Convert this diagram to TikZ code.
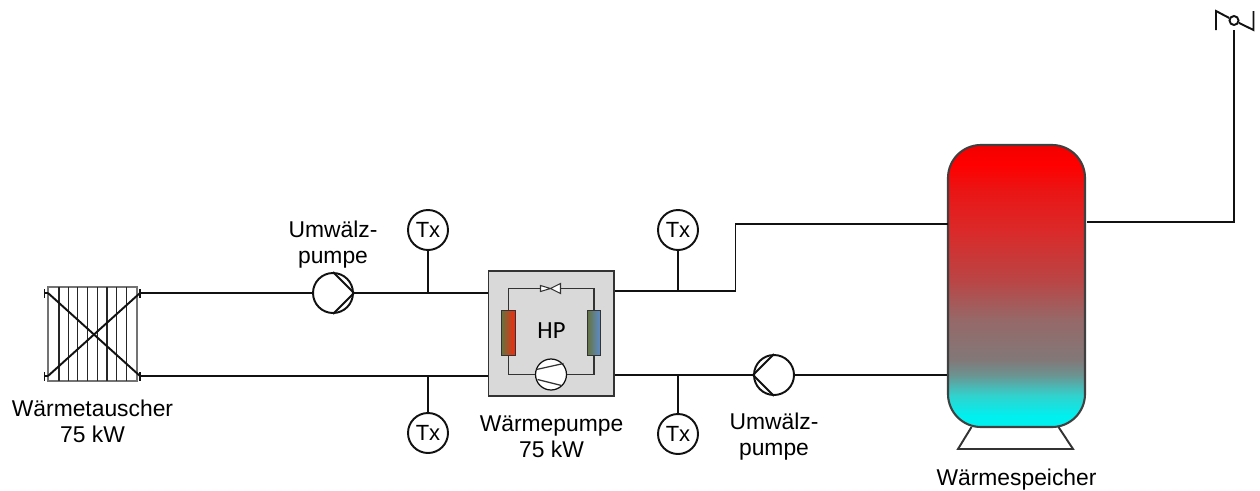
\documentclass[tikz,border=0pt]{standalone}
\usepackage{fontspec}
\setmainfont{Liberation Sans}
\newfontfamily\hpfont{Carlito}
\usetikzlibrary{positioning}
\definecolor{hline}{HTML}{111111}
\definecolor{hgrey}{HTML}{D9D9D9}
\definecolor{hedge}{HTML}{333333}
\definecolor{holive}{HTML}{66723F}
\definecolor{horange}{HTML}{D8602A}
\definecolor{hred}{HTML}{FB260A}
\definecolor{hblue}{HTML}{5C8ED0}
\pgfdeclareverticalshading{tankgrad}{100bp}{
  rgb(0bp)=(0,.94,.94);rgb(27bp)=(0,.94,.94);rgb(30.7bp)=(.2,.82,.80);rgb(34.2bp)=(.42,.58,.57);
  rgb(36.9bp)=(.51,.47,.47);rgb(44bp)=(.59,.41,.41);rgb(51bp)=(.73,.27,.27);rgb(60bp)=(.86,.16,.16);
  rgb(67bp)=(.92,.08,.08);rgb(71.5bp)=(1,0,0);rgb(75bp)=(.95,0,0);rgb(100bp)=(.95,0,0)}
\tikzset{
  pipe/.style={line width=1.1pt,draw=hline},
  thinp/.style={line width=0.7pt,draw=hedge},
  lbl/.style={align=center,font=\fontsize{13}{14.8}\selectfont,inner sep=0pt},
  pumpn/.style={circle,draw=hline,fill=white,line width=1.1pt,minimum size=0.8cm,inner sep=0pt},
  txn/.style={circle,draw=hline,fill=white,line width=1.1pt,minimum size=0.8cm,inner sep=0pt,font=\fontsize{12.5}{14}\selectfont},
  coil/.style={rectangle,draw=hedge,line width=0.8pt,minimum width=0.27cm,minimum height=0.91cm,inner sep=0pt},
  tri/.style={draw=hedge,fill=white,line width=0.6pt},
}
\begin{document}
\begin{tikzpicture}
  \useasboundingbox (0,0) rectangle (25.2,9.8);
  % waermetauscher
  \node[rectangle,draw=black!55,line width=1.1pt,minimum width=1.77cm,minimum height=1.87cm,inner sep=0pt] (hx) at (1.85,3.12) {};
  \foreach \x in {1.18,1.37,1.55,1.75,1.95,2.14,2.33,2.53} { \draw[line width=1pt,draw=black!85] (\x,2.19) -- (\x,4.06); }
  \coordinate (hxtl) at (0.96,3.94); \coordinate (hxbl) at (0.96,2.28);
  \coordinate (hxtr) at (2.80,3.94); \coordinate (hxbr) at (2.80,2.28);
  \draw[pipe] (hxtl) -- (hxbr); \draw[pipe] (hxbl) -- (hxtr);
  \draw[pipe] (0.89,3.94) -- (hxtl); \draw[pipe] (0.89,2.28) -- (hxbl);
  \foreach \x/\y in {0.89/3.94,0.89/2.28,2.80/3.94,2.80/2.28} { \draw[pipe] (\x,\y-0.09) -- (\x,\y+0.09); }
  \node[lbl] (hxl) at (1.85,1.38) {Wärmetauscher\\75 kW};
  % waermepumpe
  \node[rectangle,draw=hedge,fill=hgrey,line width=0.9pt,minimum width=2.51cm,minimum height=2.5cm,inner sep=0pt] (hp) at (11.025,3.13) {};
  \node[coil,left color=holive,middle color=horange,right color=hred] (cond) at (10.17,3.14) {};
  \node[coil,left color=holive,right color=hblue] (evap) at (11.88,3.14) {};
  \node[circle,draw=hline,fill=white,line width=0.7pt,minimum size=0.62cm,inner sep=0pt] (comp) at (11.02,2.31) {};
  \coordinate (valve) at (11.01,4.03);
  \draw[thinp] (cond.north) |- (valve) -| (evap.north);
  \draw[thinp] (evap.south) |- (comp.east);
  \draw[thinp] (comp.west) -| (cond.south);
  \draw[thinp] (10.73,2.41) -- (11.27,2.53); \draw[thinp] (10.75,2.21) -- (11.23,2.09);
  \draw[tri] (valve) -- (10.81,4.09) -- (10.81,3.97) -- cycle;
  \draw[tri] (valve) -- (11.21,4.13) -- (11.21,3.93) -- cycle;
  \node[font=\hpfont\fontsize{14}{16}\selectfont,inner sep=0pt] (hpt) at (11.03,3.19) {HP};
  \node[lbl] (hpl) at (11.03,1.07) {Wärmepumpe\\75 kW};
  % speicher
  \draw[line width=1.1pt,draw=hedge,fill=white] (19.43,1.26) -- (19.16,0.82) -- (21.46,0.82) -- (21.17,1.26);
  \node[rectangle,rounded corners=0.66cm,draw=black!75,line width=1.2pt,shade,shading=tankgrad,minimum width=2.74cm,minimum height=5.64cm,inner sep=0pt] (tank) at (20.33,4.08) {};
  \node[lbl] (tankl) at (20.33,0.2) {Wärmespeicher};
  % umwaelzpumpen
  \node[pumpn] (pumpa) at (6.66,3.94) {};
  \draw[pipe] (pumpa.north) -- (pumpa.east) -- (pumpa.south);
  \node[lbl] (pumpal) at (6.66,4.9) {Umwälz-\\pumpe};
  \node[pumpn] (pumpb) at (15.48,2.30) {};
  \draw[pipe] (pumpb.north) -- (pumpb.west) -- (pumpb.south);
  \node[lbl] (pumpbl) at (15.48,1.07) {Umwälz-\\pumpe};
  % rohre
  \coordinate (kink) at (14.71,3.98);
  \coordinate (stin) at (18.96,5.32);
  \draw[pipe] (hxtr) -- (pumpa.west); \draw[pipe] (pumpa.east) -- (hp.west |- pumpa);
  \draw[pipe] (hxbr) -- (hp.west |- hxbr);
  \draw[pipe] (hp.east |- kink) -- (kink) |- (stin);
  \draw[pipe] (hp.east |- pumpb) -- (pumpb.west); \draw[pipe] (pumpb.east) -- (tank.west |- pumpb);
  % fuehler
  \node[txn] (txa) at (8.56,5.2) {Tx};
  \node[txn] (txb) at (8.56,1.14) {Tx};
  \node[txn] (txc) at (13.56,5.2) {Tx};
  \node[txn] (txd) at (13.56,1.12) {Tx};
  \draw[pipe] (txa.south) -- (txa.south |- pumpa);
  \draw[pipe] (txb.north) -- (txb.north |- hxbr);
  \draw[pipe] (txc.south) -- (txc.south |- kink);
  \draw[pipe] (txd.north) -- (txd.north |- pumpb);
  % ventil oben
  \node[circle,draw=hline,line width=1.1pt,fill=white,minimum size=0.18cm,inner sep=0pt] (vent) at (24.68,9.39) {};
  \coordinate (stout) at (21.74,5.36);
  \coordinate (ventin) at (24.68,9.2);
  \draw[pipe] (stout) -| (ventin);
  \draw[pipe] (24.32,9.2) -- (24.32,9.58) -- (vent);
  \draw[pipe] (vent) -- (25.07,9.2) -- (25.07,9.58);
\end{tikzpicture}
\end{document}
